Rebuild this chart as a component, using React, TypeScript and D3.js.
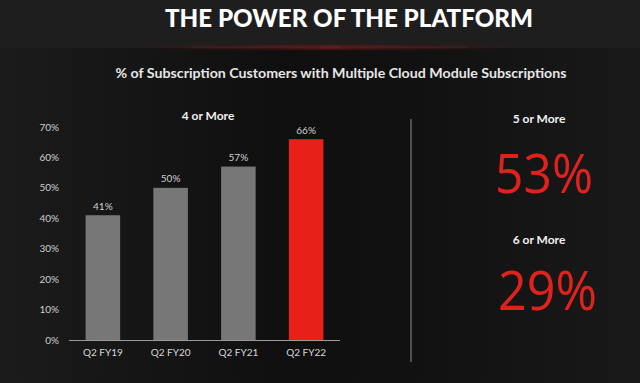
import React from "react";
import * as d3 from "d3";

const categories = ["Q2 FY19", "Q2 FY20", "Q2 FY21", "Q2 FY22"];
const values = [41, 50, 57, 66];
const yTicks = [0, 10, 20, 30, 40, 50, 60, 70];
const highlight = ["Q2 FY22"];
const sideLabels = ["5 or More", "6 or More"];
const sideValues = [53, 29];

const W = 640;
const H = 383;

export default function App() {
  const x = d3.scaleBand<string>().domain(categories).range([69, 340]).paddingInner(0.49).paddingOuter(0.245);
  const y = d3.scaleLinear().domain([0, 70]).range([340, 127]);
  const sans = "Lato, 'Open Sans', sans-serif";
  return (
    <svg width={W} height={H} style={{ position: "absolute", left: 0, top: 0, display: "block" }}>
      <defs>
        <linearGradient id="bg" x1="0" x2="1" y1="0" y2="0">
          <stop offset="0" stopColor="#1b1b1b" />
          <stop offset="0.45" stopColor="#0f0f0f" />
          <stop offset="0.65" stopColor="#111111" />
          <stop offset="1" stopColor="#191919" />
        </linearGradient>
        <linearGradient id="glow" x1="0" x2="1" y1="0" y2="0">
          <stop offset="0" stopColor="#7a1515" stopOpacity="0" />
          <stop offset="0.5" stopColor="#8a1c1c" stopOpacity="0.9" />
          <stop offset="1" stopColor="#7a1515" stopOpacity="0" />
        </linearGradient>
        <filter id="blur" x="-10%" y="-200%" width="120%" height="500%">
          <feGaussianBlur stdDeviation="1.5" />
        </filter>
      </defs>
      <rect x={0} y={0} width={W} height={H} fill="url(#bg)" />
      <rect x={0} y={0} width={W} height={48} fill="#1f1e1f" />
      <rect x={140} y={46} width={380} height={3} fill="url(#glow)" filter="url(#blur)" />

      <text x={349} y={27} textAnchor="middle" fill="#ffffff" fontFamily={sans} fontWeight={900} fontSize={25} textLength={368} lengthAdjust="spacingAndGlyphs">
        THE POWER OF THE PLATFORM
      </text>
      <text x={341} y={78} textAnchor="middle" fill="#e6e6e6" fontFamily={sans} fontWeight={700} fontSize={13} textLength={451} lengthAdjust="spacingAndGlyphs">
        % of Subscription Customers with Multiple Cloud Module Subscriptions
      </text>

      <text x={208} y={120} textAnchor="middle" fill="#f0f0f0" fontFamily={sans} fontWeight={700} fontSize={12}>
        4 or More
      </text>

      {yTicks.map((t) => (
        <text key={t} x={59} y={y(t)} dy="0.35em" textAnchor="end" fill="#cfcfcf" fontFamily={sans} fontSize={10}>
          {t}%
        </text>
      ))}

      {categories.map((c, i) => (
        <g key={c}>
          <rect x={x(c)} y={y(values[i])} width={x.bandwidth()} height={y(0) - y(values[i])} fill={highlight.includes(c) ? "#e8201a" : "#777777"} />
          <text x={(x(c) as number) + x.bandwidth() / 2} y={y(values[i]) - 5.5} textAnchor="middle" fill="#cfcfcf" fontFamily={sans} fontSize={10}>
            {values[i]}%
          </text>
          <text x={(x(c) as number) + x.bandwidth() / 2} y={356} textAnchor="middle" fill="#d6d6d6" fontFamily={sans} fontSize={10}>
            {c}
          </text>
        </g>
      ))}
      <line x1={69} x2={340} y1={y(0) + 0.5} y2={y(0) + 0.5} stroke="#9a9a9a" strokeWidth={1} />

      <line x1={411} x2={411} y1={119} y2={362} stroke="#8a8a8a" strokeWidth={1} />

      <text x={539} y={123} textAnchor="middle" fill="#f0f0f0" fontFamily={sans} fontWeight={700} fontSize={12}>
        {sideLabels[0]}
      </text>
      <text x={544} y={193} textAnchor="middle" fill="#e0221d" fontFamily="'Open Sans', 'Noto Sans', sans-serif" fontSize={54} textLength={98} lengthAdjust="spacingAndGlyphs">
        {sideValues[0]}%
      </text>
      <text x={539} y={244} textAnchor="middle" fill="#f0f0f0" fontFamily={sans} fontWeight={700} fontSize={12}>
        {sideLabels[1]}
      </text>
      <text x={547.5} y={310} textAnchor="middle" fill="#e0221d" fontFamily="'Open Sans', 'Noto Sans', sans-serif" fontSize={54} textLength={99} lengthAdjust="spacingAndGlyphs">
        {sideValues[1]}%
      </text>
    </svg>
  );
}
